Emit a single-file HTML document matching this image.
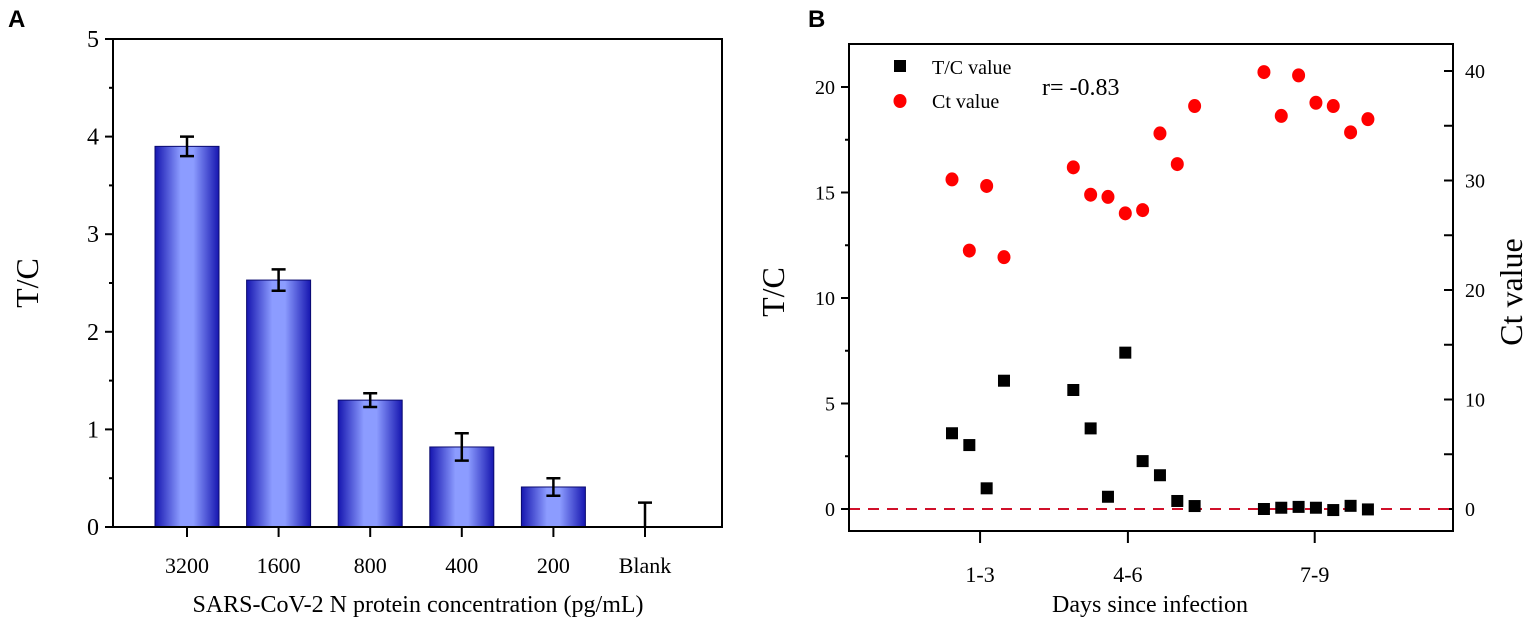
<!DOCTYPE html>
<html><head><meta charset="utf-8"><style>
body{margin:0;background:#fff}
svg text{font-family:"Liberation Serif",serif;fill:#000}
</style></head><body>
<svg width="1535" height="624" viewBox="0 0 1535 624" xmlns="http://www.w3.org/2000/svg">
<defs>
<linearGradient id="barg" x1="0" x2="1" y1="0" y2="0">
<stop offset="0" stop-color="#1616b0"/><stop offset="0.4" stop-color="#8c9cff"/><stop offset="0.6" stop-color="#8c9cff"/><stop offset="1" stop-color="#1616b0"/>
</linearGradient>
</defs>
<text x="8" y="27" style="font-family:'Liberation Sans',sans-serif;font-weight:bold;font-size:24px">A</text>
<text x="808" y="27" style="font-family:'Liberation Sans',sans-serif;font-weight:bold;font-size:24px">B</text>
<g id="chartA"></g>
<g id="chartB"></g>
</svg>
<script>
const catsA = ["3200","1600","800","400","200","Blank"];
const valsA = [3.9,2.53,1.3,0.82,0.41,0];
const errsA = [0.1,0.11,0.07,0.14,0.09,0.25];
const yTicksA = [0,1,2,3,4,5];

const slotsB = [0,1,2,3,7,8,9,10,11,12,13,14,18,19,20,21,22,23,24];
const tcB = [3.59,3.03,0.98,6.08,5.64,3.82,0.58,7.41,2.27,1.6,0.38,0.14,0.0,0.06,0.1,0.06,-0.05,0.15,-0.02];
const ctB = [30.1,23.6,29.5,23.0,31.2,28.7,28.5,27.0,27.3,34.3,31.5,36.8,39.9,35.9,39.6,37.1,36.8,34.4,35.6];
const xTickLabelsB = ["1-3","4-6","7-9"];
const xTickPosB = [1.62,10.15,20.93];
const yTicksB = [0,5,10,15,20];
const y2TicksB = [0,10,20,30,40];

const NS="http://www.w3.org/2000/svg";
function mk(parent,tag,attrs,text){const e=document.createElementNS(NS,tag);for(const k in attrs)e.setAttribute(k,attrs[k]);if(text!==undefined)e.textContent=text;parent.appendChild(e);return e;}

// Panel A
const A=document.getElementById('chartA');
const aL=113,aR=722,aT=39,aB=527;
const yA=v=>aB-(v/5)*(aB-aT);
const xA=i=>187+i*91.6;
yTicksA.forEach(t=>{
  const tk=mk(A,'line',{x1:aL-8,x2:aL,y1:yA(t),y2:yA(t),stroke:'#000','stroke-width':2});
  
  const lb=mk(A,'text',{x:aL-14,y:yA(t)+8,'text-anchor':'end','font-size':24},String(t));
  
  if(t<5){const m=mk(A,'line',{x1:aL-4,x2:aL,y1:yA(t+0.5),y2:yA(t+0.5),stroke:'#000','stroke-width':2});
  }
});
catsA.forEach((c,i)=>{
  const x=xA(i);
  if(valsA[i]>0){const b=mk(A,'rect',{x:x-32,y:yA(valsA[i]),width:64,height:aB-yA(valsA[i]),fill:'url(#barg)',stroke:'#0a0a70','stroke-width':1});
  }
  const lo=valsA[i]>0?valsA[i]-errsA[i]:valsA[i];
  const e=mk(A,'path',{d:`M${x},${yA(valsA[i]+errsA[i])}V${yA(lo)}M${x-7},${yA(valsA[i]+errsA[i])}h14`+(valsA[i]>0?`M${x-7},${yA(lo)}h14`:''),stroke:'#000','stroke-width':2.5,fill:'none'});
  
  const t=mk(A,'line',{x1:x,x2:x,y1:aB,y2:aB+10,stroke:'#000','stroke-width':2});
  
  const l=mk(A,'text',{x:x,y:573,'text-anchor':'middle','font-size':22},c);
  
});
const fa=mk(A,'rect',{x:aL,y:aT,width:aR-aL,height:aB-aT,fill:'none',stroke:'#000','stroke-width':2});

const ya=mk(A,'text',{x:38,y:283,'text-anchor':'middle','font-size':32,transform:'rotate(-90 38 283)'},'T/C');

const xa=mk(A,'text',{x:418,y:612,'text-anchor':'middle','font-size':24},'SARS-CoV-2 N protein concentration (pg/mL)');


// Panel B
const B=document.getElementById('chartB');
const bL=849,bR=1453,bT=44,bB=531;
const xB=s=>952+s*17.33;
const yB=v=>509-v*21.1;
const y2B=v=>509-v*10.95;
yTicksB.forEach(t=>{
  const tk=mk(B,'line',{x1:bL-8,x2:bL,y1:yB(t),y2:yB(t),stroke:'#000','stroke-width':2});
  
  if(t<20){const m=mk(B,'line',{x1:bL-4,x2:bL,y1:yB(t+2.5),y2:yB(t+2.5),stroke:'#000','stroke-width':2});
  }
  const lb=mk(B,'text',{x:bL-14,y:yB(t)+7,'text-anchor':'end','font-size':20},String(t));
  
});
y2TicksB.forEach(t=>{
  const tk=mk(B,'line',{x1:bR-9,x2:bR,y1:y2B(t),y2:y2B(t),stroke:'#000','stroke-width':2});
  
  if(t<40){const m=mk(B,'line',{x1:bR-9,x2:bR,y1:y2B(t+5),y2:y2B(t+5),stroke:'#000','stroke-width':2});
  }
  const lb=mk(B,'text',{x:bR+12,y:y2B(t)+7,'text-anchor':'start','font-size':20},String(t));
  
});
xTickPosB.forEach((p,i)=>{
  const x=xB(p);
  const t=mk(B,'line',{x1:x,x2:x,y1:bB,y2:bB+12,stroke:'#000','stroke-width':2});
  
  const l=mk(B,'text',{x:x,y:582,'text-anchor':'middle','font-size':22},xTickLabelsB[i]);
  
});
const dl=mk(B,'line',{x1:bL,x2:bR,y1:yB(0),y2:yB(0),stroke:'#d0102a','stroke-width':2,'stroke-dasharray':'11,8'});

slotsB.forEach((s,i)=>{
  const c=mk(B,'ellipse',{cx:xB(s),cy:y2B(ctB[i]),rx:6.5,ry:7,fill:'#f00'});
  
});
slotsB.forEach((s,i)=>{
  const r=mk(B,'rect',{x:xB(s)-6,y:yB(tcB[i])-6,width:12,height:12,fill:'#000'});
  
});
const fb=mk(B,'rect',{x:bL,y:bT,width:bR-bL,height:bB-bT,fill:'none',stroke:'#000','stroke-width':2});

const ls=mk(B,'rect',{x:894,y:60,width:12,height:12,fill:'#000'});

const lt=mk(B,'text',{x:932,y:74,'font-size':20},'T/C value');

const lc=mk(B,'ellipse',{cx:900,cy:101,rx:6.5,ry:7,fill:'#f00'});

const lct=mk(B,'text',{x:932,y:108,'font-size':20},'Ct value');

const rr=mk(B,'text',{x:1042,y:95,'font-size':24},'r= -0.83');

const yb=mk(B,'text',{x:784,y:292,'text-anchor':'middle','font-size':32,transform:'rotate(-90 784 292)'},'T/C');

const y2=mk(B,'text',{x:1522,y:292,'text-anchor':'middle','font-size':32,transform:'rotate(-90 1522 292)'},'Ct value');

const xb=mk(B,'text',{x:1150,y:612,'text-anchor':'middle','font-size':24},'Days since infection');

</script>
</body></html>
